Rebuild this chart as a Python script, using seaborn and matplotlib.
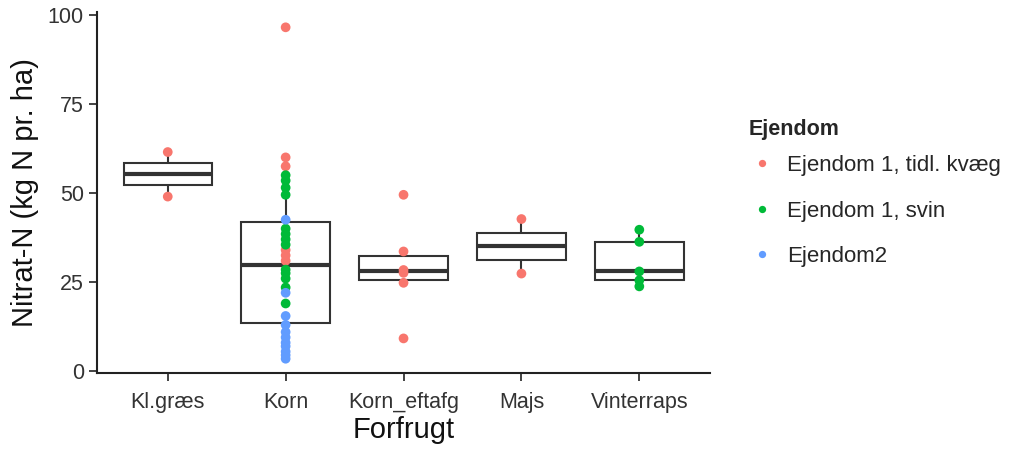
import pandas as pd
import matplotlib.pyplot as plt
import seaborn as sns

# values (kg N pr. ha)
forfrugt = ["Kl.græs", "Korn", "Korn_eftafg", "Majs", "Vinterraps"]
ejendomme = ["Ejendom 1, tidl. kvæg", "Ejendom 1, svin", "Ejendom2"]

klgraes_kvaeg = [49.0, 61.5]
korn_kvaeg = [96.5, 60.0, 57.5, 34.0, 32.5, 31.0]
korn_svin = [55.0, 53.5, 51.5, 49.5, 40.0, 38.5, 37.0, 35.5, 28.5, 27.5, 26.0, 23.5, 19.0]
korn_ejd2 = [42.5, 22.0, 15.5, 13.0, 11.0, 9.5, 8.0, 7.0, 5.5, 4.5, 3.5]
eftafg_kvaeg = [49.5, 33.6, 28.4, 27.6, 24.8, 9.2]
majs_kvaeg = [27.4, 42.7]
vinterraps_svin = [39.7, 36.3, 28.0, 25.5, 23.8]

colors = ["#F8766D", "#00BA38", "#619CFF"]


def rows(crop, owner, values):
    return [(crop, owner, v) for v in values]


records = (rows("Kl.græs", ejendomme[0], klgraes_kvaeg)
           + rows("Korn", ejendomme[0], korn_kvaeg)
           + rows("Korn", ejendomme[1], korn_svin)
           + rows("Korn", ejendomme[2], korn_ejd2)
           + rows("Korn_eftafg", ejendomme[0], eftafg_kvaeg)
           + rows("Majs", ejendomme[0], majs_kvaeg)
           + rows("Vinterraps", ejendomme[1], vinterraps_svin))
df = pd.DataFrame(records, columns=["Forfrugt", "Ejendom", "Nitrat"])

sns.set_style("white")
plt.rcParams["font.family"] = ["Liberation Sans", "DejaVu Sans"]

fig = plt.figure(figsize=(10.18, 4.49), dpi=100)
ax = fig.add_axes([0.0953, 0.1693, 0.6022, 0.804])

box_col = "#333333"
sns.boxplot(data=df, x="Forfrugt", y="Nitrat", order=forfrugt, width=0.75,
            showfliers=False, showcaps=False, color="white", linecolor=box_col,
            linewidth=1.5, medianprops={"linewidth": 3, "color": box_col},
            ax=ax)
sns.stripplot(data=df, x="Forfrugt", y="Nitrat", hue="Ejendom", order=forfrugt,
              hue_order=ejendomme, palette=colors, jitter=False, size=7,
              linewidth=0, ax=ax, zorder=5)

ax.set_xlim(-0.6, 4.6)
ax.set_ylim(-0.5, 100.8)
ax.set_yticks([0, 25, 50, 75, 100])
ax.set_xlabel("Forfrugt", fontsize=21, color="#111111", labelpad=2)
ax.set_ylabel("Nitrat-N (kg N pr. ha)", fontsize=21, color="#111111", labelpad=6)
ax.tick_params(axis="both", labelsize=15.5, length=6, width=1.2, color="#222222",
               labelcolor="#333333", direction="out", bottom=True, left=True)
ax.tick_params(axis="x", pad=8)
for side in ["top", "right"]:
    ax.spines[side].set_visible(False)
for side in ["left", "bottom"]:
    ax.spines[side].set_color("#222222")
    ax.spines[side].set_linewidth(1.5)

handles, labels = ax.get_legend_handles_labels()
ax.legend_.remove()
leg = fig.legend(handles, labels, title="Ejendom", loc="upper left",
                 bbox_to_anchor=(0.716, 0.78), frameon=False, fontsize=16,
                 title_fontproperties={"weight": "bold", "size": 15.5},
                 alignment="left", handletextpad=0.5, labelspacing=1.1,
                 markerscale=0.75, handlelength=1.2)
# tighter gap between legend title and first entry, like ggplot
leg._legend_box.sep = 11

fig.savefig("out.png", dpi=100)
